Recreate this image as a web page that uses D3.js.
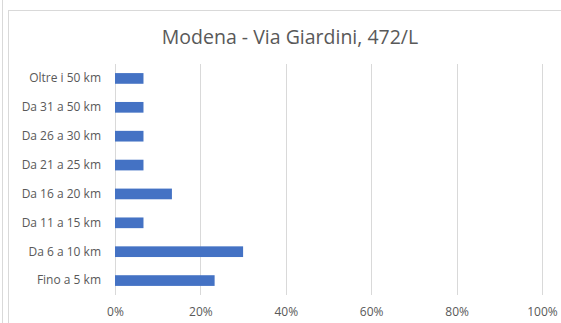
<!DOCTYPE html>
<html><head><meta charset="utf-8">
<script src="https://cdn.jsdelivr.net/npm/d3@7"></script>
<style>body{margin:0;background:#fff;}svg{display:block;font-family:"Open Sans",sans-serif;}</style>
</head><body><svg id="c" width="561" height="323"></svg>
<script>
const categories = ["Oltre i 50 km","Da 31 a 50 km","Da 26 a 30 km","Da 21 a 25 km","Da 16 a 20 km","Da 11 a 15 km","Da 6 a 10 km","Fino a 5 km"];
const values = [0.0667,0.0667,0.0667,0.0667,0.1333,0.0667,0.30,0.2333];
const tickValues = [0,0.2,0.4,0.6,0.8,1.0];
const title = "Modena - Via Giardini, 472/L";

const svg = d3.select("#c");
svg.append("line").attr("x1",2.5).attr("x2",2.5).attr("y1",0).attr("y2",323).attr("stroke","#d9d9d9");
svg.append("rect").attr("x",8.5).attr("y",10.5).attr("width",600).attr("height",340).attr("fill","#fff").attr("stroke","#d9d9d9");

const x = d3.scaleLinear().domain([0,1]).range([115,542]);
const y = d3.scaleBand().domain(categories).range([64,295]).paddingInner(0.63).paddingOuter(0.315);

svg.append("text").attr("x",290).attr("y",44).attr("text-anchor","middle")
  .attr("font-size",19.5).attr("fill","#595959").attr("font-family","Open Sans, sans-serif").text(title);

svg.append("g").selectAll("line").data(tickValues).join("line")
  .attr("x1",d=>Math.round(x(d))+0.5).attr("x2",d=>Math.round(x(d))+0.5)
  .attr("y1",64).attr("y2",295).attr("stroke","#d9d9d9").attr("stroke-width",1);

svg.append("g").selectAll("rect").data(categories).join("rect")
  .attr("x",x(0)).attr("y",d=>y(d)).attr("height",y.bandwidth())
  .attr("width",(d,i)=>x(values[i])-x(0)).attr("fill","#4472C4");

const xa = svg.append("g").attr("transform","translate(0,295)")
  .call(d3.axisBottom(x).tickValues(tickValues).tickFormat(d3.format(".0%")).tickSize(0).tickPadding(12));
xa.select(".domain").remove();
xa.selectAll("text").attr("font-size",12).attr("fill","#595959").attr("font-family","Open Sans, sans-serif");

const ya = svg.append("g").attr("transform","translate(115,0)")
  .call(d3.axisLeft(y).tickSize(0).tickPadding(14));
ya.select(".domain").remove();
ya.selectAll("text").attr("font-size",12).attr("fill","#595959").attr("font-family","Open Sans, sans-serif");
</script></body></html>
